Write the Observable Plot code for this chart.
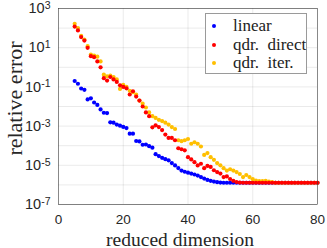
<!DOCTYPE html>
<html>
<head>
<meta charset="utf-8">
<script src="https://cdn.jsdelivr.net/npm/d3@7"></script>
<script src="https://cdn.jsdelivr.net/npm/@observablehq/plot@0.6"></script>
<style>
  html, body { margin: 0; padding: 0; background: #fff; }
  #wrap { position: relative; width: 327px; height: 248px; overflow: hidden; }
  #legend { position: absolute; left: 205px; top: 13px; width: 102px; height: 61px; box-sizing: border-box;
            border: 1px solid #9a9a9a; background: #fff; font-family: "Liberation Serif", serif; font-size: 17px; color: #222; }
  .row { position: absolute; left: 0; height: 18px; line-height: 18px; white-space: nowrap; }
  .dot { position: absolute; left: 6px; top: 7px; width: 4px; height: 4px; border-radius: 50%; }
  .lab { position: absolute; left: 27px; top: 0; }
</style>
</head>
<body>
<div id="wrap"><div id="chart"></div><div id="legend"></div></div>
<script>
const dims = [5,6,7,8,9,10,11,12,13,14,15,16,17,18,19,20,21,22,23,24,25,26,27,28,29,30,
  31,32,33,34,35,36,37,38,39,40,41,42,43,44,45,46,47,48,49,50,51,52,53,54,55,56,57,58,59,60,
  61,62,63,64,65,66,67,68,69,70,71,72,73,74,75,76,77,78,79,80];

const linearErr = [2.0e-1,1.45e-1,8.3e-2,7.1e-2,2.3e-2,2.6e-2,1.6e-2,1.2e-2,7.1e-3,4.8e-3,
  4.6e-3,1.55e-3,1.5e-3,1.2e-3,1.05e-3,9.1e-4,7.9e-4,4.1e-4,4.1e-4,1.74e-4,
  1.66e-4,1.12e-4,1.15e-4,9.5e-5,7.9e-5,3.7e-5,2.95e-5,2.4e-5,2.05e-5,1.8e-5,
  1.3e-5,9.8e-6,7.2e-6,5.4e-6,4.7e-6,4.2e-6,3.8e-6,3.4e-6,3.0e-6,2.5e-6,
  2.1e-6,1.8e-6,1.62e-6,1.48e-6,1.38e-6,1.32e-6,
  1.29e-6,1.29e-6,1.29e-6,1.29e-6,1.29e-6,1.29e-6,1.29e-6,1.29e-6,1.29e-6,1.29e-6,
  1.29e-6,1.29e-6,1.29e-6,1.29e-6,1.29e-6,1.29e-6,1.29e-6,1.29e-6,1.29e-6,1.29e-6,
  1.29e-6,1.29e-6,1.29e-6,1.29e-6,1.29e-6,1.29e-6,1.29e-6,1.29e-6,1.29e-6,1.29e-6];

const directErr = [1.2e2,7.6e1,3.5e1,2.3e1,9.8,3.7,3.3,2.0,1.0,2.8e-1,
  2.1e-1,3.2e-1,2.4e-1,1.8e-1,1.2e-1,1.0e-1,8.5e-2,4.1e-2,6.0e-2,3.2e-2,
  2.0e-2,1.0e-2,5.0e-3,3.2e-3,8.7e-4,1.1e-3,8.9e-4,6.3e-4,3.7e-4,2.5e-4,
  2.5e-4,1.9e-4,7.4e-5,6.6e-5,5.8e-5,2.6e-5,2.0e-5,1.45e-5,9.8e-6,1.2e-5,
  7.1e-6,9.3e-6,8.3e-6,5.6e-6,4.5e-6,3.8e-6,2.5e-6,2.7e-6,2.0e-6,1.62e-6,
  1.41e-6,1.32e-6,
  1.29e-6,1.29e-6,1.29e-6,1.29e-6,1.29e-6,1.29e-6,1.29e-6,1.29e-6,1.29e-6,1.29e-6,
  1.29e-6,1.29e-6,1.29e-6,1.29e-6,1.29e-6,1.29e-6,1.29e-6,1.29e-6,1.29e-6,1.29e-6,
  1.29e-6,1.29e-6,1.29e-6,1.29e-6];

const iterErr = [1.66e2,1.0e2,4.0e1,2.6e1,1.2e1,4.5,4.0,3.5,2.0,4.2e-1,
  3.5e-1,3.8e-1,3.2e-1,2.4e-1,7.9e-2,1.26e-1,1.0e-1,6.3e-2,5.4e-2,4.0e-2,
  2.0e-2,1.4e-2,8.9e-3,5.0e-3,3.2e-3,2.6e-3,2.1e-3,1.8e-3,1.5e-3,1.2e-3,
  8.9e-4,7.1e-4,1.9e-4,1.7e-4,1.9e-4,2.2e-4,1.26e-4,1.5e-4,1.26e-4,9.1e-5,
  3.4e-5,4.2e-5,2.6e-5,1.9e-5,1.3e-5,1.0e-5,7.1e-6,5.4e-6,6.3e-6,5.4e-6,
  4.5e-6,3.6e-6,2.5e-6,3.2e-6,2.5e-6,1.95e-6,1.66e-6,1.55e-6,1.55e-6,1.62e-6,
  1.48e-6,1.38e-6,
  1.29e-6,1.29e-6,1.29e-6,1.29e-6,1.29e-6,1.29e-6,1.29e-6,1.29e-6,1.29e-6,1.29e-6,
  1.29e-6,1.29e-6,1.29e-6,1.29e-6];

const seriesNames = ["linear", "qdr. direct", "qdr. iter."];
const seriesColors = ["#0000ff", "#ff0000", "#ffbf00"];
const xTicks = [0, 20, 40, 60, 80];
const yTicks = [1e-7, 1e-5, 1e-3, 1e-1, 1e1, 1e3];
const xLabel = "reduced dimension";
const yLabel = "relative error";

const seriesValues = [linearErr, directErr, iterErr];
const drawOrder = [0, 2, 1]; // linear, iter, direct (direct on top)
const rows = [];
for (const s of drawOrder) {
  dims.forEach((d, i) => rows.push({dim: d, err: seriesValues[s][i], series: seriesNames[s]}));
}

const yDomain = [1e-7, 1e3];
const decades = d3.scaleLog().domain(yDomain).ticks().filter(v => Math.abs(Math.log10(v) - Math.round(Math.log10(v))) < 1e-9);
const minors = d3.scaleLog().domain(yDomain).ticks().filter(v => !decades.includes(v));
const xGrid = xTicks.slice(1, -1);

const svg = Plot.plot({
  width: 327, height: 248,
  marginLeft: 58, marginRight: 10, marginTop: 8, marginBottom: 44,
  style: {fontFamily: "'Liberation Sans', Arial, sans-serif", color: "#262626", background: "#fff", overflow: "visible"},
  x: {domain: [0, 80]},
  y: {type: "log", domain: yDomain},
  color: {domain: seriesNames, range: seriesColors},
  marks: [
    Plot.gridY(minors, {stroke: "#000", strokeOpacity: 0.12, strokeDasharray: "1,1.5", strokeWidth: 0.6}),
    Plot.gridY(decades, {stroke: "#000", strokeOpacity: 0.12, strokeWidth: 0.7}),
    Plot.gridX(xGrid, {stroke: "#000", strokeOpacity: 0.12, strokeWidth: 0.7}),
    Plot.dot(rows, {x: "dim", y: "err", fill: "series", r: 2.1, stroke: null}),
    Plot.frame({stroke: "#3a3a3a", strokeWidth: 0.6}),
    Plot.axisX(xTicks, {tickSize: 0, tickPadding: 10, fontSize: 13.5, label: null, fill: "#262626"}),
    Plot.axisY(yTicks, {tickSize: 0, tickPadding: 8, fontSize: 14.5, label: null, fill: "#262626",
      tickFormat: d => "10^" + Math.round(Math.log10(d))}),
    Plot.text([xLabel], {frameAnchor: "bottom", textAnchor: "middle", lineAnchor: "bottom", dx: -8, dy: 41, fontSize: 19.5, fontFamily: "'Liberation Serif', serif", fill: "#262626"}),
    Plot.text([yLabel], {frameAnchor: "left", textAnchor: "middle", lineAnchor: "middle", rotate: -90, dx: -44, dy: -8, fontSize: 22, fontFamily: "'Liberation Serif', serif", fill: "#262626"})
  ]
});
document.getElementById("chart").appendChild(svg);

// superscript exponents on y tick labels
const ns = "http://www.w3.org/2000/svg";
for (const t of svg.querySelectorAll('g[aria-label="y-axis tick label"] text')) {
  const parts = t.textContent.split("^");
  if (parts.length !== 2) continue;
  t.textContent = "";
  const a = document.createElementNS(ns, "tspan"); a.textContent = parts[0];
  const b = document.createElementNS(ns, "tspan"); b.textContent = parts[1];
  b.setAttribute("dy", "-0.4em"); b.setAttribute("font-size", "10.5");
  t.append(a, b);
}

// legend
const legend = document.getElementById("legend");
seriesNames.forEach((name, i) => {
  const row = document.createElement("div");
  row.className = "row";
  row.style.top = (3 + i * 18.5) + "px";
  row.innerHTML = `<span class="dot" style="background:${seriesColors[i]}"></span><span class="lab">${name.replace(". ", ".&nbsp; ")}</span>`;
  legend.appendChild(row);
});
</script>
</body>
</html>
